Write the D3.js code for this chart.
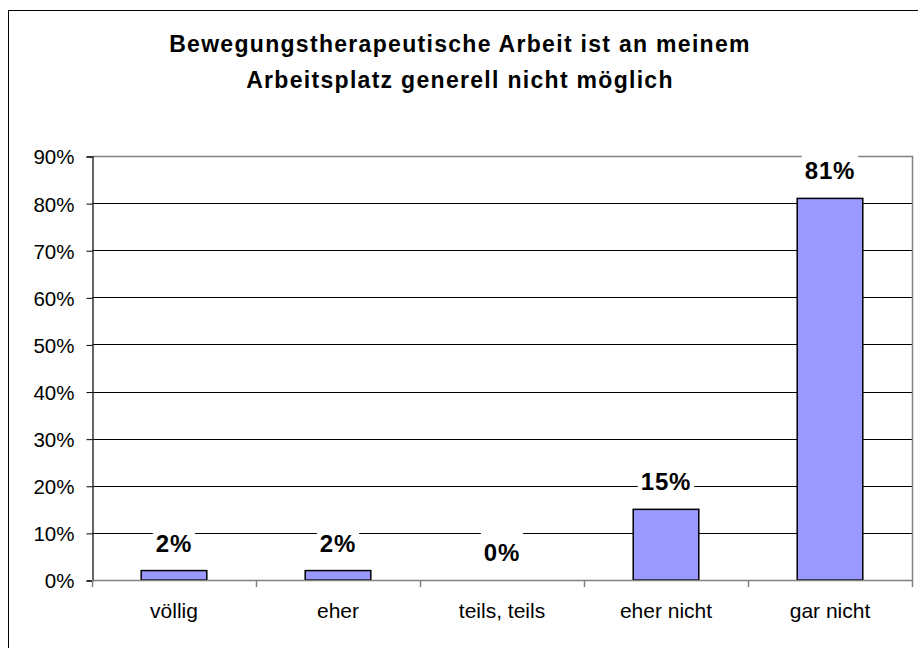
<!DOCTYPE html>
<html>
<head>
<meta charset="utf-8">
<script src="https://cdn.jsdelivr.net/npm/d3@7"></script>
<style>
  body { margin: 0; background: #fff; }
  svg { display: block; font-family: Arial, "Liberation Sans", sans-serif; }
</style>
</head>
<body>
<script>
var titleLines = ["Bewegungstherapeutische Arbeit ist an meinem", "Arbeitsplatz generell nicht möglich"];
var categories = ["völlig", "eher", "teils, teils", "eher nicht", "gar nicht"];
var values = [2, 2, 0, 15, 81];
var labels = ["2%", "2%", "0%", "15%", "81%"];
var yTicks = [0, 10, 20, 30, 40, 50, 60, 70, 80, 90];

var width = 918, height = 648;
var plotL = 92, plotR = 912, plotT = 156, plotB = 580;

var svg = d3.select("body").append("svg")
  .attr("width", width)
  .attr("height", height);

// outer chart border (runs off the picture on the right and bottom)
svg.append("rect")
  .attr("x", 8.5).attr("y", 10.5)
  .attr("width", 930).attr("height", 660)
  .attr("fill", "#fff")
  .attr("stroke", "#000").attr("stroke-width", 1);

svg.selectAll(".title").data(titleLines).enter()
  .append("text")
  .attr("class", "title")
  .attr("x", 460)
  .attr("y", function(d, i) { return 52 + i * 36; })
  .attr("text-anchor", "middle")
  .style("font-size", "23px")
  .style("font-weight", "bold")
  .style("letter-spacing", "1.3px")
  .text(function(d) { return d; });

var x = d3.scaleBand()
  .domain(categories)
  .range([plotL, plotR])
  .paddingInner(0.6)
  .paddingOuter(0.3);

var y = d3.scaleLinear()
  .domain([0, 90])
  .range([plotB, plotT]);

// gridlines
svg.selectAll(".grid").data(yTicks.filter(function(d) { return d > 0 && d < 90; })).enter()
  .append("line")
  .attr("x1", plotL).attr("x2", plotR)
  .attr("y1", function(d) { return Math.round(y(d)) + 0.5; })
  .attr("y2", function(d) { return Math.round(y(d)) + 0.5; })
  .attr("stroke", "#000");

// plot border top / right
svg.append("path")
  .attr("d", "M" + plotL + "," + (plotT + 0.5) + "H" + (plotR + 0.5) + "V" + plotB)
  .attr("fill", "none")
  .attr("stroke", "#808080").attr("stroke-width", 1.5);

// y axis
var yAxis = d3.axisLeft(y)
  .tickValues(yTicks)
  .tickSize(6)
  .tickPadding(12)
  .tickFormat(function(d) { return d + "%"; });

var gy = svg.append("g")
  .attr("transform", "translate(" + (plotL + 0.5) + ",0.5)")
  .call(yAxis);
gy.select(".domain").attr("stroke", "#333").attr("stroke-width", 1.5);
gy.selectAll(".tick line").attr("stroke", "#000");
gy.selectAll(".tick text")
  .style("font-size", "20.5px")
  .style("font-family", "Arial, 'Liberation Sans', sans-serif")
  .attr("fill", "#000")
  .attr("dy", "0.36em");

// bars
svg.selectAll(".bar").data(values).enter()
  .append("rect")
  .attr("class", "bar")
  .attr("x", function(d, i) { return x(categories[i]); })
  .attr("y", function(d) { return y(d); })
  .attr("width", x.bandwidth())
  .attr("height", function(d) { return y(0) - y(d); })
  .attr("fill", "#9999FF")
  .attr("stroke", "#000")
  .attr("stroke-width", 1.5);

// x axis
var xb = d3.scaleLinear().domain([0, categories.length]).range([plotL, plotR]);
var gx = svg.append("g");
gx.append("line")
  .attr("x1", plotL).attr("x2", plotR + 1)
  .attr("y1", plotB + 0.5).attr("y2", plotB + 0.5)
  .attr("stroke", "#808080").attr("stroke-width", 1.5);
gx.selectAll(".xt").data(d3.range(categories.length + 1)).enter()
  .append("line")
  .attr("x1", function(d) { return Math.round(xb(d)) + 0.5; })
  .attr("x2", function(d) { return Math.round(xb(d)) + 0.5; })
  .attr("y1", plotB).attr("y2", plotB + 7)
  .attr("stroke", "#808080").attr("stroke-width", 1.5);
gx.selectAll(".xl").data(categories).enter()
  .append("text")
  .attr("x", function(d) { return x(d) + x.bandwidth() / 2; })
  .attr("y", 618)
  .attr("text-anchor", "middle")
  .style("font-size", "21px")
  .text(function(d) { return d; });

// data labels with white boxes
var lab = svg.selectAll(".lab").data(values).enter()
  .append("g")
  .attr("class", "lab");
lab.append("rect").attr("fill", "#fff");
lab.append("text")
  .attr("x", function(d, i) { return x(categories[i]) + x.bandwidth() / 2; })
  .attr("y", function(d) { return y(d) - 19; })
  .attr("text-anchor", "middle")
  .style("font-size", "24px")
  .style("font-weight", "bold")
  .style("letter-spacing", "0.8px")
  .text(function(d, i) { return labels[i]; });
lab.each(function() {
  var g = d3.select(this);
  var b = g.select("text").node().getBBox();
  var base = +g.select("text").attr("y");
  g.select("rect")
    .attr("x", b.x - 3)
    .attr("y", base - 30)
    .attr("width", b.width + 6)
    .attr("height", 38);
});
</script>
</body>
</html>
